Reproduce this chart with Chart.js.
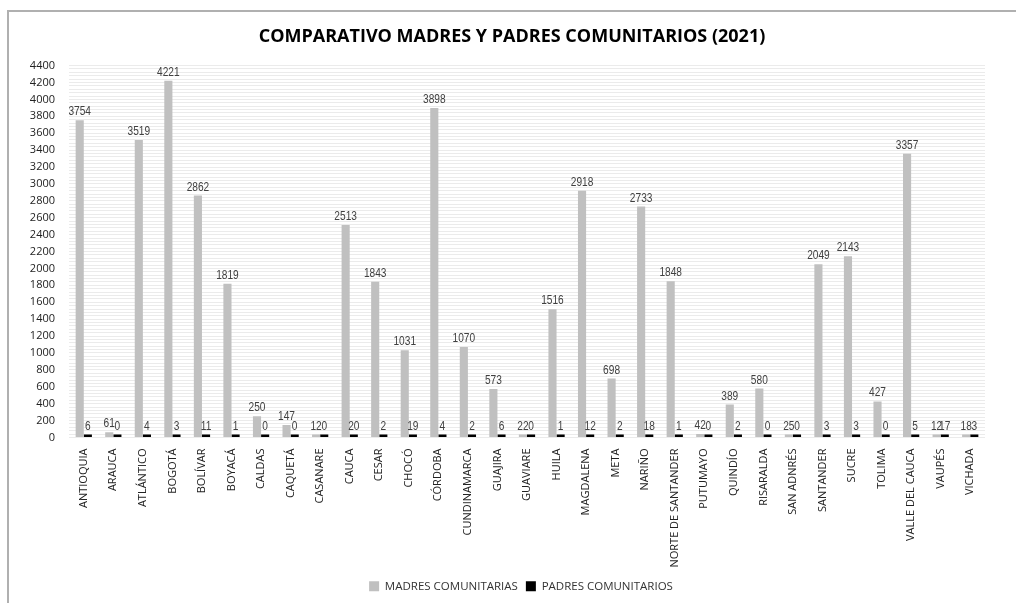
<!DOCTYPE html>
<html>
<head>
<meta charset="utf-8">
<script src="https://cdn.jsdelivr.net/npm/chart.js@4.4.1/dist/chart.umd.min.js"></script>
<style>
  body { margin: 0; background: #fff; overflow: hidden; }
  #marco { position: absolute; left: 7px; top: 10px; width: 1100px; height: 700px;
           border-left: 2px solid #b0b0b0; border-top: 2px solid #b0b0b0; }
  #contenedor { position: absolute; left: 0; top: 0; width: 1016px; height: 603px; }
</style>
</head>
<body>
<div id="marco"></div>
<div id="contenedor"><canvas id="grafico"></canvas></div>
<script>
// Datos
const departamentos = ['ANTIOQUIA', 'ARAUCA', 'ATLÁNTICO', 'BOGOTÁ', 'BOLÍVAR', 'BOYACÁ', 'CALDAS', 'CAQUETÁ',
  'CASANARE', 'CAUCA', 'CESAR', 'CHOCÓ', 'CÓRDOBA', 'CUNDINAMARCA', 'GUAJIRA', 'GUAVIARE', 'HUILA',
  'MAGDALENA', 'META', 'NARIÑO', 'NORTE DE SANTANDER', 'PUTUMAYO', 'QUINDÍO', 'RISARALDA', 'SAN ADNRÉS',
  'SANTANDER', 'SUCRE', 'TOLIMA', 'VALLE DEL CAUCA', 'VAUPÉS', 'VICHADA'];

const madres = [3754, 61, 3519, 4221, 2862, 1819, 250, 147, 12, 2513, 1843, 1031, 3898, 1070, 573, 22, 1516,
  2918, 698, 2733, 1848, 42, 389, 580, 25, 2049, 2143, 427, 3357, 12, 18];

const padres = [6, 0, 4, 3, 11, 1, 0, 0, 0, 20, 2, 19, 4, 2, 6, 0, 1,
  12, 2, 18, 1, 0, 2, 0, 0, 3, 3, 0, 5, 17, 3];

const ejeY = { min: 0, max: 4400, paso: 200 };

// Etiquetas de valor sobre cada barra (letra estrecha)
const etiquetas = {
  id: 'etiquetas',
  afterDatasetsDraw(chart) {
    const ctx = chart.ctx;
    chart.data.datasets.forEach((ds, i) => {
      chart.getDatasetMeta(i).data.forEach((barra, j) => {
        ctx.save();
        ctx.font = '13px "Liberation Sans", sans-serif';
        ctx.fillStyle = '#404040';
        ctx.textAlign = 'center';
        ctx.textBaseline = 'bottom';
        ctx.translate(barra.x, barra.y - 2);
        ctx.scale(0.78, 1);
        ctx.fillText(ds.data[j], 0, 0);
        ctx.restore();
      });
    });
  }
};

// Corre un poco el título y la leyenda hacia la derecha, como en el original
const centrado = {
  id: 'centrado',
  afterLayout(chart) {
    if (chart.titleBlock) chart.titleBlock.left += 19;
    if (chart.legend) chart.legend.left += 37;
  }
};

const ctx = document.getElementById('grafico').getContext('2d');
const chart = new Chart(ctx, {
  type: 'bar',
  data: {
    labels: departamentos,
    datasets: [
      { label: 'MADRES COMUNITARIAS', data: madres, backgroundColor: '#c0c0c0',
        minBarLength: 3, barPercentage: 1, categoryPercentage: 0.55 },
      { label: 'PADRES COMUNITARIOS', data: padres, backgroundColor: '#000000',
        minBarLength: 3, barPercentage: 1, categoryPercentage: 0.55 }
    ]
  },
  options: {
    responsive: true,
    maintainAspectRatio: false,
    animation: false,
    layout: { padding: { left: 20, right: 31, top: 10, bottom: 1 } },
    plugins: {
      title: {
        display: true,
        text: 'COMPARATIVO MADRES Y PADRES COMUNITARIOS (2021)',
        color: '#000',
        font: { family: '"Open Sans", sans-serif', size: 18, weight: 'bold' },
        padding: { top: 16, bottom: 18 }
      },
      legend: {
        position: 'bottom',
        labels: {
          boxWidth: 10, boxHeight: 10, padding: 8,
          color: '#333',
          font: { family: '"Open Sans", sans-serif', size: 11.5 }
        }
      },
      tooltip: { enabled: false }
    },
    scales: {
      x: {
        grid: { display: false },
        border: { display: false },
        ticks: {
          autoSkip: false, minRotation: 90, maxRotation: 90, color: '#222',
          font: { family: '"Open Sans", sans-serif', size: 11 }
        },
        afterFit(scale) { scale.height = 135; }
      },
      y: {
        min: ejeY.min, max: ejeY.max, z: 0,
        border: { display: false },
        grid: { color: '#a8a8a8', drawTicks: false },
        ticks: {
          stepSize: ejeY.paso, padding: 14, color: '#222',
          font: { family: '"Open Sans", sans-serif', size: 11 },
          callback: (v) => String(v)
        },
        afterFit(scale) { scale.width = 49; }
      },
      fondo: {
        type: 'linear', position: 'left', min: ejeY.min, max: ejeY.max, z: -1,
        border: { display: false },
        grid: { color: '#ebebeb', drawTicks: false },
        ticks: { display: false, stepSize: 40 },
        afterFit(scale) { scale.width = 0; }
      }
    }
  },
  plugins: [etiquetas, centrado]
});
</script>
</body>
</html>
